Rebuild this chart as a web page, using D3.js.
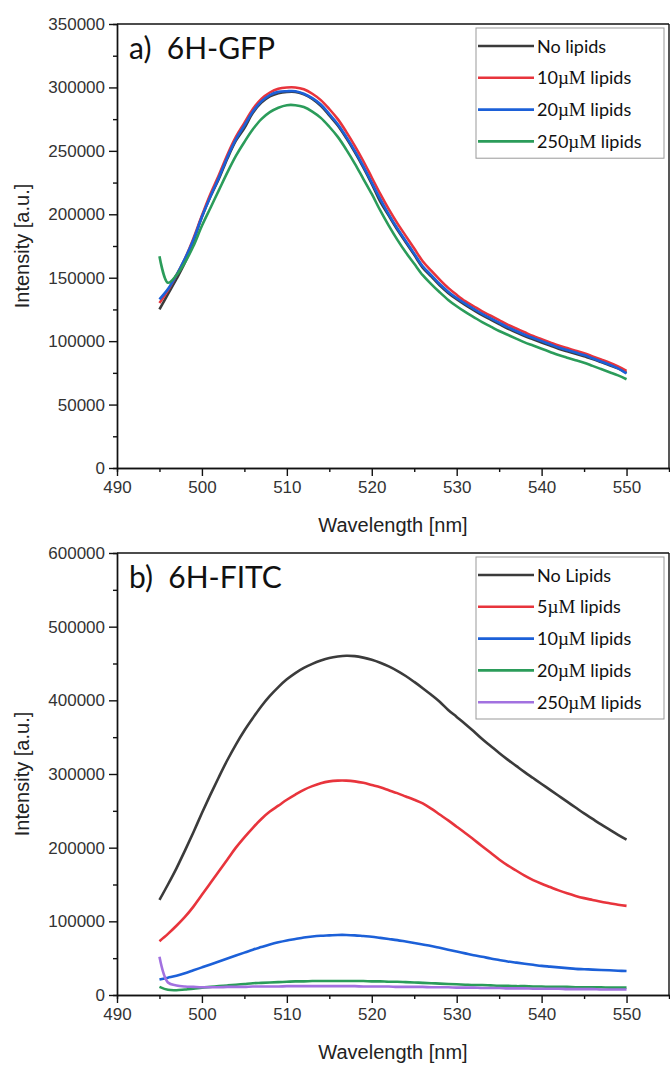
<!DOCTYPE html>
<html>
<head>
<meta charset="utf-8">
<script src="https://cdn.jsdelivr.net/npm/d3@7"></script>
<style>
  body { margin: 0; background: #fff; }
  svg { display: block; }
  .tick text { font-family: "Liberation Sans", Arial, sans-serif; font-size: 17px; fill: #333; }
  .axis path, .axis line { stroke: #111; stroke-width: 1.4px; }
  .ttl { font-family: Lato, "Open Sans", sans-serif; font-size: 30px; fill: #111; }
  .alab { font-family: "Liberation Sans", Arial, sans-serif; font-size: 20px; fill: #222; }
  .leg { font-family: Lato, "Open Sans", sans-serif; font-size: 18px; fill: #111; }
  .mu { font-family: "Liberation Serif", "Times New Roman", serif; }
</style>
</head>
<body>
<svg id="chart" width="670" height="1065"></svg>
<script>
// wavelengths (nm), 1 nm steps
const wavelength = d3.range(495, 551);

// panel a) 6H-GFP
const gfpNoLipids = [125000,137000,149000,162000,179000,198000,214000,228000,244000,258000,
  268000,280000,288000,293000,295500,296500,296500,294500,291000,285500,
  278000,270000,260000,249000,237000,224000,210000,199000,188000,178000,
  168000,158000,151000,144000,138000,133000,128500,124500,120500,117000,
  113500,110000,107000,104000,101500,99000,96500,94000,92000,90000,
  88000,86000,83500,81000,78500,75000];
const gfp10 = [130000,140000,152000,165000,181000,199000,216000,231000,247000,261000,
  272000,283000,291000,296000,299000,300000,300000,298500,295000,290000,
  283000,275000,265000,254000,242000,229000,216000,204000,193000,183000,
  173000,163000,155500,148500,142000,136500,131500,127500,123500,120000,
  116500,113000,110000,107000,104000,101500,99000,96500,94500,92500,
  90500,88000,85500,83000,80000,76500];
const gfp20 = [133000,141000,152000,165000,180000,198000,214000,229000,245000,259000,
  270000,281000,289000,294000,296500,297000,297000,295000,291500,286500,
  279000,271000,261000,250000,238000,225000,212000,200000,189000,179000,
  169000,159000,152000,145000,139000,134000,129500,125500,121500,118000,
  114500,111000,108000,105000,102500,100000,97500,95000,93000,91000,
  89000,86500,84000,81500,78500,74500];
const gfp250 = [167000,146000,152000,162000,175000,191000,205000,219000,233000,246000,
  257000,267000,275000,280500,284000,286000,286000,284500,281000,276000,
  269000,261000,251000,240000,228000,216000,203000,191000,180000,170000,
  161000,152000,145000,138500,132500,127500,123000,119000,115000,111500,
  108000,105000,102000,99000,96500,94000,91500,89000,87000,85000,
  83000,80500,78000,75500,73000,70000];

// panel b) 6H-FITC
const fitcNoLipids = [129000,150000,172000,196000,221000,247000,272000,296000,319000,340000,
  359000,376000,392000,406000,418000,428500,437000,444000,449500,454000,
  457500,459500,460500,460000,458000,455000,451000,446000,440000,433000,
  425000,416500,407500,398000,387000,377500,368000,358000,347500,338000,
  328500,319500,311000,302500,294500,286500,278500,270500,262500,254500,
  246500,239000,231500,224500,217500,211000];
const fitc5 = [73000,83000,94000,106000,120000,136000,152000,168000,184000,200000,
  214000,227000,239000,249000,257000,265000,272000,278500,283500,287500,
  290000,291000,291000,290000,288000,285000,282000,278000,274000,269500,
  265000,260000,253000,245000,237000,228500,220000,211000,202000,193000,
  184000,176000,169000,162000,156000,151000,146500,142000,138000,134500,
  131500,129000,126500,124500,122500,121000];
const fitc10 = [21000,23500,26000,29500,33500,37500,41500,45500,49500,53500,
  57500,61500,65000,68500,71500,74000,76000,78000,79500,80500,
  81000,81500,81500,81000,80000,79000,77500,76000,74500,72500,
  70500,68500,66500,64000,61500,59000,56500,54000,52000,49500,
  47500,45500,44000,42500,41000,39500,38500,37500,36500,35500,
  35000,34500,34000,33500,33000,32500];
const fitc20 = [11000,7000,6500,7500,8500,10000,11000,12000,13000,14000,
  15000,16000,16500,17000,17500,18000,18500,18500,19000,19000,
  19000,19000,19000,19000,19000,18500,18500,18000,18000,17500,
  17000,16500,16000,15500,15000,14500,14000,13500,13500,13000,
  12500,12500,12000,12000,11500,11500,11000,11000,11000,10500,
  10500,10500,10500,10000,10000,10000];
const fitc250 = [52000,17000,13000,11500,11000,10500,10500,10500,11000,11000,
  11000,11500,11500,11500,11500,12000,12000,12000,12000,12000,
  12000,12000,12000,12000,11500,11500,11500,11500,11000,11000,
  11000,11000,10500,10500,10500,10000,10000,10000,9500,9500,
  9500,9000,9000,9000,8500,8500,8500,8500,8000,8000,
  8000,8000,7500,7500,7500,7500];

const gfpLabels = ["No lipids", "10|lipids", "20|lipids", "250|lipids"];
const fitcLabels = ["No Lipids", "5|lipids", "10|lipids", "20|lipids", "250|lipids"];
const colors = ["#3b3b3b", "#e8343c", "#1c60d8", "#2b9c5a", "#a271e0"];

const xTicks = [490, 500, 510, 520, 530, 540, 550];
const gfpYTicks = [0, 50000, 100000, 150000, 200000, 250000, 300000, 350000];
const fitcYTicks = [0, 100000, 200000, 300000, 400000, 500000, 600000];

const svg = d3.select("#chart");

function drawPanel(p) {
  let x = d3.scaleLinear().domain([490, 555]).range([117, 669]);
  let y = d3.scaleLinear().domain([0, p.yMax]).range([p.bottom, p.top]);
  let g = svg.append("g");

  // minor ticks
  let xMinor = d3.range(495, 555, 10);
  let yMinor = d3.range(p.yStep / 2, p.yMax, p.yStep);

  g.append("g").attr("class", "axis")
    .attr("transform", "translate(0," + p.bottom + ")")
    .call(d3.axisBottom(x).tickValues(xMinor).tickSize(4).tickFormat(""));
  g.append("g").attr("class", "axis")
    .attr("transform", "translate(117,0)")
    .call(d3.axisLeft(y).tickValues(yMinor).tickSize(4).tickFormat(""));

  g.append("g").attr("class", "axis")
    .attr("transform", "translate(0," + p.bottom + ")")
    .call(d3.axisBottom(x).tickValues(xTicks).tickSize(8).tickSizeOuter(0)
      .tickPadding(5).tickFormat(d3.format("d")));
  g.append("g").attr("class", "axis")
    .attr("transform", "translate(117,0)")
    .call(d3.axisLeft(y).tickValues(p.yTicks).tickSize(8).tickSizeOuter(0)
      .tickPadding(4).tickFormat(d3.format("d")));

  // frame top / right
  g.append("line").attr("x1", 117).attr("x2", 669).attr("y1", p.top).attr("y2", p.top)
    .attr("stroke", "#111").attr("stroke-width", 1.4);
  g.append("line").attr("x1", 669).attr("x2", 669).attr("y1", p.top).attr("y2", p.bottom)
    .attr("stroke", "#111").attr("stroke-width", 1.4);

  // curves
  let line = d3.line()
    .x((d, i) => x(wavelength[i]))
    .y(d => y(d))
    .curve(d3.curveCatmullRom);
  p.series.forEach((s, i) => {
    g.append("path").datum(s)
      .attr("fill", "none")
      .attr("stroke", colors[i])
      .attr("stroke-width", 2.6)
      .attr("d", line);
  });

  // title
  g.append("text").attr("class", "ttl").attr("x", 129).attr("y", p.top + 35)
    .attr("xml:space", "preserve").text(p.title);

  // axis titles
  g.append("text").attr("class", "alab")
    .attr("text-anchor", "middle")
    .attr("transform", "translate(29," + ((p.top + p.bottom) / 2) + ") rotate(-90)")
    .text("Intensity [a.u.]");
  g.append("text").attr("class", "alab")
    .attr("text-anchor", "middle")
    .attr("x", 393).attr("y", p.bottom + 64)
    .text("Wavelength [nm]");

  // legend
  let rowH = 31.8;
  let lg = g.append("g");
  lg.append("rect").attr("x", 476).attr("y", p.top + 4)
    .attr("width", 188).attr("height", p.labels.length * rowH + 3)
    .attr("fill", "#fff").attr("stroke", "#999").attr("stroke-width", 1);
  p.labels.forEach((lab, i) => {
    let cy = p.top + 22 + i * rowH;
    lg.append("line").attr("x1", 478).attr("x2", 534).attr("y1", cy).attr("y2", cy)
      .attr("stroke", colors[i]).attr("stroke-width", 2.6);
    let t = lg.append("text").attr("class", "leg").attr("x", 537).attr("y", cy + 6.5);
    let parts = lab.split("|");
    if (parts.length === 1) {
      t.text(lab);
    } else {
      t.append("tspan").text(parts[0]);
      t.append("tspan").attr("class", "mu").attr("font-size", 19).text("\u00b5M");
      t.append("tspan").text(" " + parts[1]);
    }
  });
}

drawPanel({
  top: 24, bottom: 468, yMax: 350000, yStep: 50000, yTicks: gfpYTicks,
  series: [gfpNoLipids, gfp10, gfp20, gfp250],
  labels: gfpLabels, title: "a)  6H-GFP"
});
drawPanel({
  top: 553, bottom: 995, yMax: 600000, yStep: 100000, yTicks: fitcYTicks,
  series: [fitcNoLipids, fitc5, fitc10, fitc20, fitc250],
  labels: fitcLabels, title: "b)  6H-FITC"
});
</script>
</body>
</html>
